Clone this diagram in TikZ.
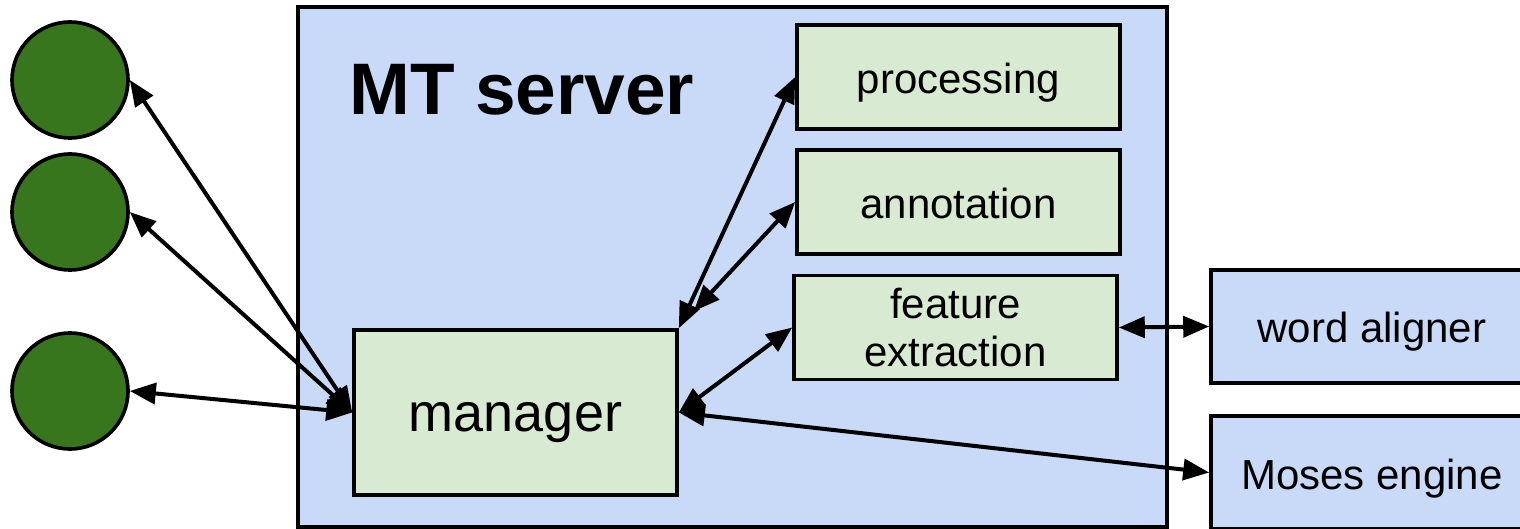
\documentclass[tikz,border=0pt]{standalone}
\usepackage{fontspec}
\setmainfont{Liberation Sans}
\usetikzlibrary{arrows.meta,calc}
\definecolor{serverblue}{HTML}{C9DAF8}
\definecolor{modgreen}{HTML}{D9EAD3}
\definecolor{clientgreen}{HTML}{38761D}
\tikzset{
  module/.style={draw=black, line width=1.8pt, fill=modgreen, rectangle,
    minimum width=161.5pt, minimum height=52pt, inner sep=0pt,
    font=\fontsize{21}{24}\selectfont, align=center},
  oneline/.style={text height=16.5pt, text depth=0pt},
  extbox/.style={draw=black, line width=1.8pt, fill=serverblue, rectangle,
    minimum width=161pt, minimum height=56.5pt, inner sep=0pt,
    font=\fontsize{21}{24}\selectfont, oneline},
  client/.style={draw=black, line width=1.8pt, fill=clientgreen, circle,
    minimum size=58pt, inner sep=0pt},
  link/.style={line width=2pt, {Triangle[length=13pt,width=10.5pt]}-{Triangle[length=13pt,width=10.5pt]}}
}
\begin{document}
\begin{tikzpicture}[x=0.5pt, y=-0.5pt]
  \useasboundingbox (0,0) rectangle (1520,529);
  \clip (0,0) rectangle (1520,529);

  % server container
  \node[draw=black, line width=1.8pt, fill=serverblue, rectangle, inner sep=0pt,
        minimum width=434.5pt, minimum height=260pt] (server) at (732.5,267) {};
  \node[font=\fontsize{36.5}{40}\selectfont\bfseries, anchor=base west, inner sep=0pt] (title) at (349,115) {MT server};

  % modules inside the server
  \node[module, oneline] (processing) at (958.5,77) {processing};
  \node[module, oneline] (annotation) at (958.5,202) {annotation};
  \node[module] (feature) at (955.5,327.5) {feature\\extraction};
  \node[module, minimum height=82.5pt, font=\fontsize{27}{30}\selectfont,
        text height=19pt, text depth=0pt] (manager) at (515.5,412.5) {manager};

  % external components
  \node[extbox] (aligner) at (1372,326.5) {word aligner};
  \node[extbox] (moses) at (1372,472.5) {Moses engine};

  % clients
  \node[client] (c1) at (70,80) {};
  \node[client] (c2) at (70,212) {};
  \node[client] (c3) at (70,391) {};

  % connections
  \draw[link] (c1.east) -- (manager.west);
  \draw[link] (c2.east) -- (manager.west);
  \draw[link] (c3.east) -- (manager.west);
  \draw[link] (manager.north east) -- (processing.west);
  \coordinate (mgrTop) at ($(manager.north east)+(15,-17)$);
  \draw[link] (mgrTop) -- (annotation.west);
  \draw[link] (manager.east) -- (feature.west);
  \draw[link] (manager.east) -- (moses.west);
  \draw[link] (feature.east) -- (aligner.west);
\end{tikzpicture}
\end{document}
